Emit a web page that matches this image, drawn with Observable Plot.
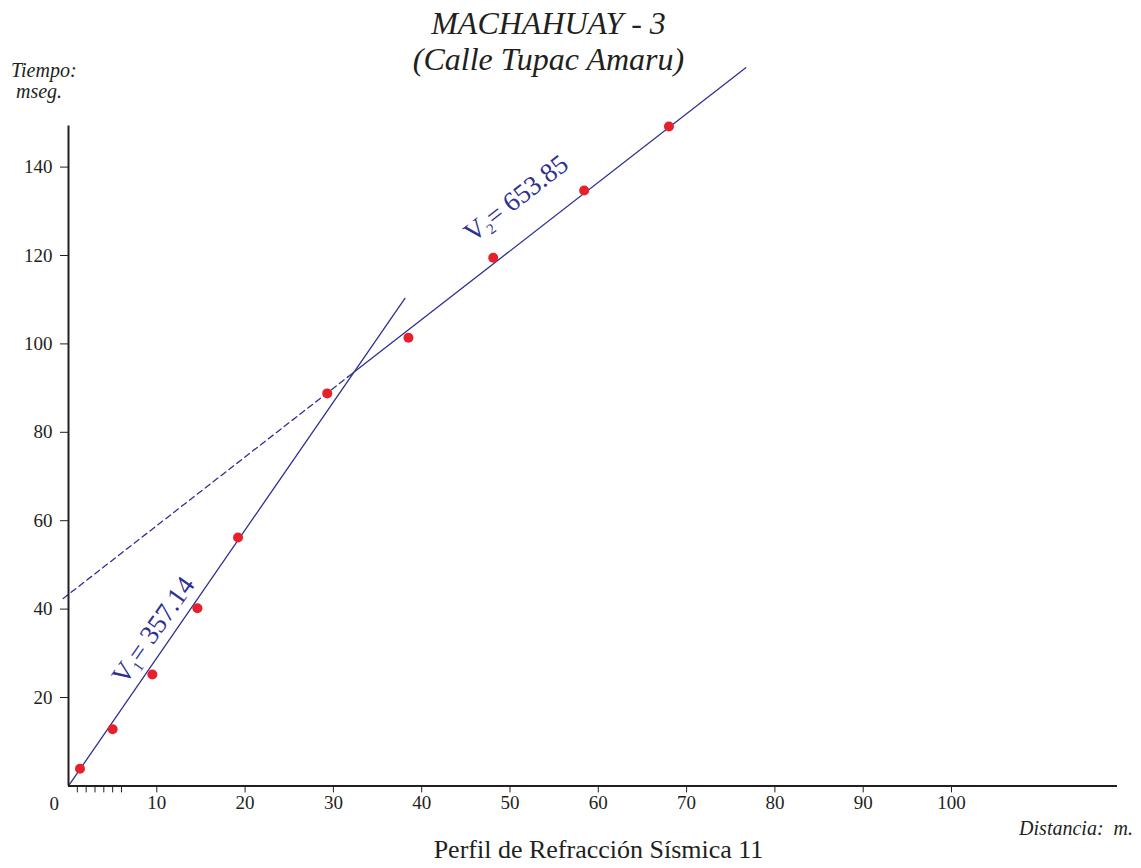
<!DOCTYPE html>
<html>
<head>
<meta charset="utf-8">
<script src="https://cdn.jsdelivr.net/npm/d3@7"></script>
<script src="https://cdn.jsdelivr.net/npm/@observablehq/plot@0.6"></script>
<style>
  body { margin: 0; background: #fff; }
  #wrap { position: relative; width: 1141px; height: 868px; font-family: "Liberation Serif", "Times New Roman", serif; color: #231f20; overflow: hidden; }
  .t { position: absolute; white-space: nowrap; z-index: 2; }
</style>
</head>
<body>
<div id="wrap">
  <div id="chart"></div>
  <div class="t" style="left:-22px;width:1141px;top:7px;text-align:center;font-style:italic;font-size:32px;line-height:32px;">MACHAHUAY - 3</div>
  <div class="t" style="left:-22px;width:1141px;top:43px;text-align:center;font-style:italic;font-size:32px;line-height:32px;">(Calle Tupac Amaru)</div>
  <div class="t" style="left:11px;top:60px;font-style:italic;font-size:20px;line-height:21px;">Tiempo:<br>&nbsp;mseg.</div>
  <div class="t" style="right:8px;top:818px;font-style:italic;font-size:20px;line-height:20px;">Distancia:&nbsp; m.</div>
  <div class="t" style="left:28px;width:1141px;top:837px;text-align:center;font-size:26px;line-height:26px;">Perfil de Refracción Sísmica 11</div>
</div>
<script>
// Observed travel times (distance m, time ms)
const distances = [1.3, 5.0, 9.5, 14.6, 19.2, 29.3, 38.5, 48.1, 58.4, 68.0];
const times     = [3.9, 12.8, 25.2, 40.2, 56.2, 88.8, 101.4, 119.5, 134.7, 149.2];

// Fitted lines
const line1X = [0, 38.1];
const line1Y = [0, 110.3];
const line2DashX = [-0.6, 32.2];
const line2DashY = [42.4, 93.4];
const line2SolidX = [32.2, 76.7];
const line2SolidY = [93.4, 162.5];

// Velocity labels
const velX = [9.6, 50.7];
const velY = [35.2, 132.9];
const velText = ["V1= 357.14", "V2= 653.85"];
const velAngle = [-55, -37.8];

const xTicks = [10, 20, 30, 40, 50, 60, 70, 80, 90, 100];
const xMinorTicks = [1, 2, 3, 4, 5, 6];
const yTicks = [20, 40, 60, 80, 100, 120, 140];

const pts = distances.map((d, i) => ({x: d, y: times[i]}));
const seg = (xs, ys) => xs.map((x, i) => ({x, y: ys[i]}));
const velLabels = velX.map((x, i) => ({x, y: velY[i], text: velText[i], angle: velAngle[i]}));

const axisColor = "#231f20";
const lineColor = "#2e3192";

const chart = Plot.plot({
  width: 1141,
  height: 868,
  marginLeft: 68,
  marginRight: 13.4,
  marginTop: 78.2,
  marginBottom: 82.6,
  style: {fontFamily: "Liberation Serif, serif", background: "transparent", overflow: "visible"},
  x: {domain: [0, 120], axis: null, label: null},
  y: {domain: [0, 160], axis: null, label: null},
  marks: [
    Plot.line(seg(line1X, line1Y), {x: "x", y: "y", stroke: lineColor, strokeWidth: 1.3}),
    Plot.line(seg(line2DashX, line2DashY), {x: "x", y: "y", stroke: lineColor, strokeWidth: 1.3, strokeDasharray: "6,4"}),
    Plot.line(seg(line2SolidX, line2SolidY), {x: "x", y: "y", stroke: lineColor, strokeWidth: 1.3}),
    Plot.axisX({ticks: xMinorTicks, tickSize: 7, tickFormat: () => "", label: null, stroke: axisColor, strokeWidth: 1}),
    Plot.axisX({ticks: xTicks, tickSize: 7, tickPadding: 3, label: null, fontSize: 19, fill: axisColor, stroke: axisColor, strokeWidth: 1}),
    Plot.text([{x: -1.6, y: 0, t: "0"}], {x: "x", y: "y", text: "t", dy: 18, fontSize: 19, fill: axisColor}),
    Plot.axisY({ticks: yTicks, tickSize: 8, tickPadding: 8, label: null, fontSize: 19, fill: axisColor, stroke: axisColor, strokeWidth: 1}),
    Plot.ruleX([0], {y1: 0, y2: 149.3, stroke: axisColor, strokeWidth: 2}),
    Plot.ruleY([0], {x1: 0, x2: 118.8, stroke: axisColor, strokeWidth: 2}),
    Plot.dot(pts, {x: "x", y: "y", r: 5, fill: "#e8202a", stroke: "none"}),
    Plot.text(velLabels, {x: "x", y: "y", text: "text", rotate: "angle", fontSize: 27, fill: lineColor, textAnchor: "middle"})
  ]
});
chart.style.position = "absolute";
chart.style.left = "0";
chart.style.top = "0";
document.getElementById("chart").appendChild(chart);

// Subscript digits in velocity labels
chart.querySelectorAll("text").forEach(t => {
  const m = /^V(\d)(=.*)$/.exec(t.textContent);
  if (!m) return;
  while (t.firstChild) t.removeChild(t.firstChild);
  const ns = "http://www.w3.org/2000/svg";
  const a = document.createElementNS(ns, "tspan"); a.textContent = "V";
  const b = document.createElementNS(ns, "tspan"); b.textContent = m[1];
  b.setAttribute("font-size", "15"); b.setAttribute("dy", "5");
  const c = document.createElementNS(ns, "tspan"); c.textContent = m[2];
  c.setAttribute("dy", "-5");
  t.append(a, b, c);
});
</script>
</body>
</html>
